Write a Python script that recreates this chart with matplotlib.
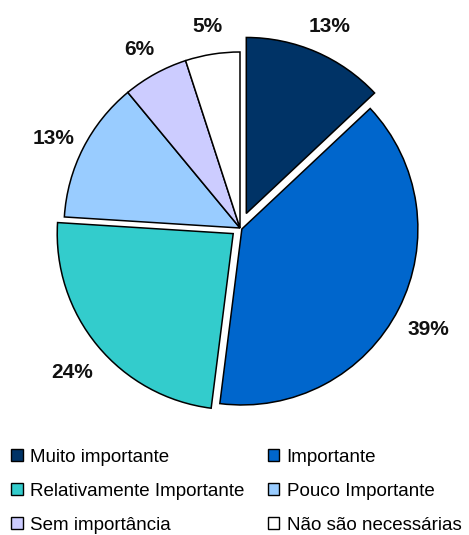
import matplotlib
matplotlib.use("Agg")
import matplotlib.pyplot as plt
from matplotlib.patches import Patch

plt.rcParams["font.family"] = ["Liberation Sans Narrow", "Liberation Sans", "DejaVu Sans"]

# survey answers, clockwise from 12 o'clock
categories = ["Muito importante", "Importante", "Relativamente Importante",
              "Pouco Importante", "Sem importância", "Não são necessárias"]
shares = [13, 39, 24, 13, 6, 5]
colors = ["#003366", "#0066CC", "#33CCCC", "#99CCFF", "#CCCCFF", "#FFFFFF"]
explode = [0.09, 0.012, 0.05, 0, 0, 0]

fig = plt.figure(figsize=(4.69, 5.35), dpi=100)

# square axes centred on the pie
R_PX = 176
span = 1.3
side = 2 * span * R_PX
cx, cy = 240, 535 - 228
ax = fig.add_axes([(cx - side / 2) / 469, (cy - side / 2) / 535, side / 469, side / 535])

wedges, _, autotexts = ax.pie(
    shares, colors=colors, explode=explode, startangle=90, counterclock=False,
    autopct=lambda p: f"{p:.0f}%", pctdistance=1.19,
    wedgeprops=dict(edgecolor="black", linewidth=1.1),
    textprops=dict(fontsize=15, fontweight="bold", color="#111111"),
)
# percentage labels sit a little lower than the default placement
for t in autotexts:
    x, y = t.get_position()
    t.set_position((x, y - 0.03))

ax.set_xlim(-span, span)
ax.set_ylim(-span, span)
ax.set_aspect("auto")
ax.axis("off")

# legend filled row by row: two columns
handles = [Patch(facecolor=c, edgecolor="black", linewidth=1.0) for c in colors]
order = [0, 2, 4, 1, 3, 5]
fig.legend([handles[i] for i in order], [categories[i] for i in order],
           ncol=2, frameon=False, loc="upper left",
           bbox_to_anchor=(0.0, 0.182), fontsize=13.5,
           handlelength=0.6, handleheight=0.6, handletextpad=0.4,
           columnspacing=1.25, labelspacing=0.9, borderaxespad=0.2)

fig.savefig("out.png", dpi=100)
